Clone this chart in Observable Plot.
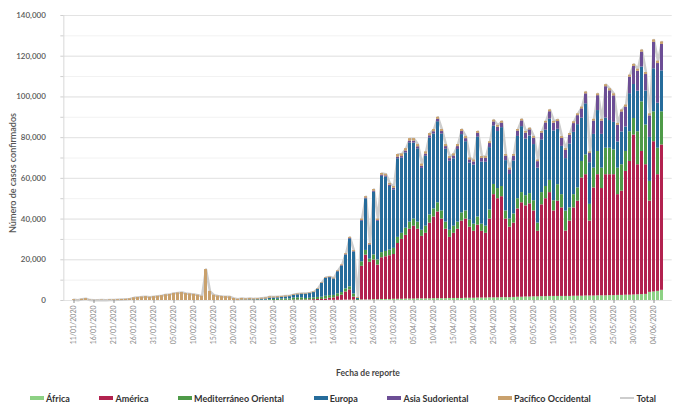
<!DOCTYPE html>
<html><head><meta charset="utf-8">
<script src="https://cdn.jsdelivr.net/npm/d3@7"></script>
<script src="https://cdn.jsdelivr.net/npm/@observablehq/plot@0.6"></script>
<style>
body{margin:0;background:#fff;font-family:Lato,"Noto Sans",sans-serif;}
#wrap{position:relative;width:676px;height:405px;overflow:hidden;background:#fff}
#legend{position:absolute;left:30px;width:626px;top:392px;height:12px;display:flex;justify-content:space-between;align-items:center;font-size:9px;font-weight:700;color:#333;white-space:nowrap}
#legend span.it{display:flex;align-items:center}
#legend i{display:inline-block;width:14px;height:4px;margin-right:2px}
</style></head><body><div id="wrap"><div id="chart"></div><div id="legend"></div></div>
<script>
const startDate = "2020-01-11";
const nDays = 148;
const regions = ["África","América","Mediterráneo Oriental","Europa","Asia Sudoriental","Pacífico Occidental"];
const colors = ["#8dd184","#b2224f","#4e9a48","#266c9b","#6c4e95","#c9a16d"];
const totalColor = "#cdcdcd";
const yTicks = [0,20000,40000,60000,80000,100000,120000,140000];
const yMinorTicks = [0,10000,20000,30000,40000,50000,60000,70000,80000,90000,100000,110000,120000,130000,140000];

const africa = [
0,0,0,0,0,0,0,0,0,0, 0,0,0,0,0,0,0,0,0,0,
0,0,0,0,0,0,0,0,0,0, 0,0,0,0,0,0,0,0,0,0,
0,0,0,0,0,0,0,0,0,0, 0,0,0,0,0,0,0,0,0,0,
0,0,0,0,100,
100,100,100,200,200,200,0,300,300,300,400,400,500,500,500,600,
600,600,700,700,700,800,800,800,800,900, 900,900,900,1000,1000,1000,1000,1100,1100,1100,
1200,1200,1200,1300,1300,1300,1400,1400,1400,1500, 1600,1600,1700,1700,1800,1800,1900,1900,2000,2000,
2000,2000,2000,2000,2100,2100,2100,2200,2200,2200, 2300,2300,2300,2400,2400,2500,2500,2600,2600,2700,
2800,2900,3000,4000,4200,4500,5000];

const america = [
0,0,0,0,0,0,0,0,0,0, 0,0,0,0,0,0,0,0,0,0,
0,0,0,0,0,0,0,0,0,0, 0,0,0,0,0,0,0,0,0,0,
0,0,0,0,0,0,0,0,0,0, 0,0,
100,100,100,200,200,200,200,300,400,500,500,700,1000,
1200,1800,2500,4000,5000,1500,0,16500,22000,18500,19500,17000,20500,21000,21500,22000,
27400,29400,31300,34300,35800,34200,30700,32200,37200,40100, 42600,39100,34100,30000,32000,34000,38000,38900,34900,32900,
35800,32800,31800,38700,50700,48700,49600,38600,34600,36500, 43400,46400,44800,45800,42200,32200,45100,48100,51000,42000,
46800,43500,32100,37000,43400,46700,58100,59600,36800,53100, 59500,52700,59500,59400,59400,49500,51200,60800,65700,78600,
63900,70300,63700,44800,73800,57300,71400];

const mediterraneo = [
0,0,0,0,0,0,0,0,0,0, 0,0,0,0,0,0,0,0,0,0,
0,0,0,0,0,0,0,0,0,0, 0,0,0,0,0,0,0,0,0,0,
0,0,100,100,100,
100,200,200,200,400, 500,600,600,700,700, 1000,1100,1100,800,800, 900,1000,1100,1400,1300,
1200,1400,1300,1500,1500,1500,500,2200,2300,1500,2500,2500,2500,2600,2800,3000,
3000,3000,3500,3500,3500,3500,3000,3500,4000,4000, 4500,4000,3500,3500,3500,3500,4000,4000,3500,3500,
4000,3500,3500,4500,5000,5000,5000,4000,4000,4500, 5000,5000,5000,5000,5000,4000,6000,6000,6000,5000,
8100,6500,9800,6500,6500,6500,8100,9700,8200,9700, 11400,10000,13000,13000,12200,13000,13000,9800,14600,8100,
16200,24400,19500,9700,14700,13000,16300];

const europa = [
0,0,0,0,0,0,0,0,0,0, 0,0,0,0,0,0,0,0,0,0,
0,0,0,0,0,0,0,0,0,0, 0,0,0,0,0,0,0,0,0,0,
0,0,100,100,200,
200,200,400,500,700, 700,700,800,900,1100, 1300,1500,1800,2100,2300, 2600,4000,6800,8800,8800,
8000,10800,13000,16600,23500,20600,500,20000,25300,6800,30800,19000,37500,36500,31200,28700,
38600,36900,37000,38900,37300,36000,30400,34400,37800,36800, 39800,37800,35800,33900,33100,35700,38500,34000,28000,29000,
39300,30500,31400,30600,28700,28000,28900,24700,21900,26000, 30600,32400,27800,28300,27600,27000,25900,27700,30100,34300,
27200,23700,25800,31400,30600,31100,21300,25100,20500,16600, 20100,16600,14800,13600,13500,12900,16100,12000,18700,16700,
19900,17100,16700,21600,21100,22100,20100];

const asia = [
0,0,0,0,0,0,0,0,0,0, 0,0,0,0,0,0,0,0,0,0,
0,0,0,0,0,0,0,0,0,0, 0,0,0,0,0,0,0,0,0,0,
0,0,0,0,0,0,0,0,0,0, 0,0,0,0,0,0,0,0,0,0,
0,0,100,100,100,
100,100,200,200,300,200,0,300,400,300,500,400,600,600,700,800,
800,800,900,900,1000,1000,1000,1000,1100,1100, 1200,1200,1300,1300,1400,1400,1500,1500,1600,1600,
1800,1800,1900,2000,2000,2100,2200,2200,2300,2400, 2600,2800,2900,3000,3100,3200,3300,3500,3600,3800,
3800,3900,4000,4200,4300,4400,4500,4900,4500,6500, 7300,6500,15400,14600,13000,8100,9800,9800,8100,8900,
9800,7300,8100,10600,13000,19500,13000];

const pacifico = [
400,100,600,900,200,100,100,200,100,300, 300,400,500,600,800,1300,1500,1700,1900,1600,
1900,2100,2400,2800,3000,3500,3700,3900,3400,3200, 3000,2600,2100,15200,4500,2600,2200,2000,1900,1800,
1000,600,800,600,700,500,500,500,600,700,
500,600,500,500,400,400,400,300,300,300,300,300,300,300,300,
400,400,400,500,500,500,500,700,700,600,800,700,800,800,800,900,
1300,1300,1200,1200,1200,1100,1100,1100,1100,1100, 1000,1000,1000,1000,1000,1000,1000,1000,900,900,
900,900,900,900,900,900,900,800,800,800, 800,800,800,800,800,800,800,800,900,900,
900,900,900,900,900,900,900,900,800,900, 900,900,1000,1000,1000,1000,1000,1000,1000,1000,
1000,1000,1000,1000,1200,1200,1200];

const series = [africa, america, mediterraneo, europa, asia, pacifico];
const fmtDate = d3.utcFormat("%d/%m/%Y");
const start = new Date(startDate + "T00:00:00Z");
const dates = d3.range(nDays).map(i => fmtDate(d3.utcDay.offset(start, i)));
const tickDates = dates.filter((d, i) => i % 5 === 0);

const rows = [];
dates.forEach((d, i) => regions.forEach((r, k) => rows.push({date: d, region: r, value: series[k][i]})));
const totals = dates.map((d, i) => ({date: d, total: d3.sum(series, s => s[i])}));

const chart = Plot.plot({
  width: 676, height: 385,
  marginLeft: 63.35, marginRight: 4.35, marginTop: 15, marginBottom: 85,
  style: {fontFamily: "Lato, 'Noto Sans', sans-serif", background: "#fff"},
  x: {type: "band", domain: dates, paddingInner: 0.2, paddingOuter: 0},
  y: {domain: [0, 140000]},
  color: {domain: regions, range: colors},
  marks: [
    Plot.ruleY(yMinorTicks, {stroke: "#f2f2f2"}),
    Plot.ruleY(yTicks, {stroke: "#e3e3e3"}),
    Plot.frame({anchor: "left", stroke: "#d8d8d8"}),
    Plot.lineY(totals, {x: "date", y: "total", stroke: totalColor, strokeWidth: 2.5}),
    Plot.barY(rows, {x: "date", y: "value", fill: "region"}),
    Plot.axisY({ticks: yMinorTicks, tickSize: 3, tickFormat: () => "", color: "#cfcfcf", label: null}),
    Plot.axisY({ticks: yTicks, tickSize: 0, tickPadding: 18, tickFormat: d3.format(","), fontSize: 8, fontWeight: 600, color: "#5a5a5a", label: null}),
    Plot.axisX({ticks: tickDates, tickRotate: -90, tickSize: 3, tickPadding: 2, fontSize: 7, color: "#8a8a8a", label: null}),
    Plot.text(["Fecha de reporte"], {frameAnchor: "bottom", dy: 75, fontSize: 8.5, fontWeight: 700, fill: "#444"}),
    Plot.text(["Número de casos confirmados"], {frameAnchor: "left", textAnchor: "middle", rotate: -90, dx: -51, dy: 15, fontSize: 9, fontWeight: 600, fill: "#555"})
  ]
});
document.getElementById("chart").appendChild(chart);

const legend = document.getElementById("legend");
regions.forEach((r, k) => {
  const s = document.createElement("span"); s.className = "it";
  s.innerHTML = `<i style="background:${colors[k]}"></i>${r}`;
  legend.appendChild(s);
});
const t = document.createElement("span"); t.className = "it";
t.innerHTML = `<i style="background:${totalColor};height:2px"></i>Total`;
legend.appendChild(t);
</script></body></html>
